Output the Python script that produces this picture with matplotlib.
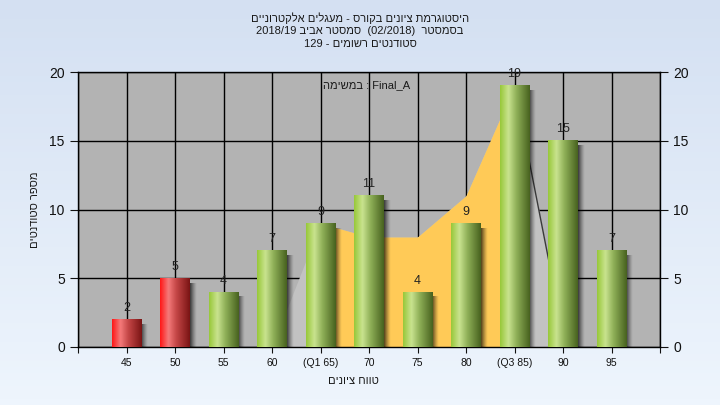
import re
import numpy as np
import matplotlib
matplotlib.use('Agg')
import matplotlib.pyplot as plt
from matplotlib.colors import to_rgb

plt.rcParams['font.family'] = ['Liberation Sans', 'DejaVu Sans']

# נתונים
categories = ['45', '50', '55', '60', '(Q1 65)', '70', '75', '80', '(Q3 85)', '90', '95']
counts = [2, 5, 4, 7, 9, 11, 4, 9, 19, 15, 7]
bar_kind = ['fail', 'fail', 'pass', 'pass', 'pass', 'pass', 'pass', 'pass', 'pass', 'pass', 'pass']
# אזור בין רבעונים (צהוב) ואזור אפור ברקע
iqr_idx = [4, 5, 6, 7, 8]
iqr_vals = [9, 8, 8, 11, 19]
gray_idx = [3, 4, 5, 6, 7, 8, 9]
gray_vals = [0, 9, 8, 8, 11, 19, 1]

title_lines = ['היסטוגרמת ציונים בקורס - מעגלים אלקטרוניים',
               'בסמסטר  (02/2018)  סמסטר אביב 2018/19',
               'סטודנטים רשומים - 129']
xlabel = 'טווח ציונים'
ylabel = 'מספר סטודנטים'
legend_heb = 'במשימה'
legend_name = 'Final_A'


def rtl(s):
    # היפוך סדר תצוגה לעברית, השארת מספרים ולטינית בסדר רגיל
    return re.sub(r'[0-9A-Za-z/()._]+', lambda m: m.group(0)[::-1], s[::-1])


def grad(stops, n=64):
    pos = np.linspace(0, 1, n)
    ps = [p for p, c in stops]
    cols = np.array([to_rgb(c) for p, c in stops])
    return np.stack([np.interp(pos, ps, cols[:, k]) for k in range(3)], axis=-1)


green = grad([(0, '#98c83a'), (0.28, '#c9e38f'), (0.55, '#8fb058'), (1, '#48621f')])
red = grad([(0, '#ff1818'), (0.28, '#f47a7a'), (0.55, '#c44646'), (1, '#7a1414')])

# צל: שחור עם שקיפות יורדת
shadow = np.zeros((1, 32, 4))
shadow[..., 3] = np.linspace(0.75, 0.0, 32) ** 1.3

fig = plt.figure(figsize=(7.2, 4.05), dpi=100)

# רקע מדורג
bg = fig.add_axes([0, 0, 1, 1], zorder=-10)
bg.imshow(grad([(0, '#d4e0f2'), (1, '#eef5fd')])[:, None, :], aspect='auto', extent=(0, 1, 0, 1), origin='upper')
bg.axis('off')

ax = fig.add_axes([78 / 720, 1 - 347 / 405, 582 / 720, 275 / 405])
ax.set_facecolor('#b3b3b3')

w = 0.6

# אזורים
ax.fill_between(gray_idx, gray_vals, color='#c2c2c2', zorder=2, lw=0)
ax.plot(gray_idx[-2:], gray_vals[-2:], color='#3a3a3a', lw=1, zorder=2.1)
ax.fill_between(iqr_idx, iqr_vals, color='#ffca57', zorder=2.5, lw=0)

# עמודות עם צל ושיפוע
for i, v in enumerate(counts):
    ax.imshow(shadow, extent=(i + w / 2, i + w / 2 + 0.14, 0, v - 0.35), aspect='auto', zorder=3,
              interpolation='bilinear')
    img = red if bar_kind[i] == 'fail' else green
    ax.imshow(img[None, :, :], extent=(i - w / 2, i + w / 2, 0, v), aspect='auto', zorder=4, interpolation='bilinear')
    ax.text(i, v + 0.4, str(v), ha='center', va='bottom', fontsize=9, color='#222222', zorder=5)

ax.set_xlim(-1, 11)
ax.set_ylim(0, 20)
ax.set_aspect('auto')

ax.set_xticks(np.arange(-1, 12))
ax.set_xticklabels([''] + categories + [''], fontsize=7.5)
ax.set_yticks([0, 5, 10, 15, 20])
ax.tick_params(axis='y', labelsize=10, length=6, right=True, labelright=True, colors='#111111')
ax.tick_params(axis='x', length=4, colors='#111111', pad=4)
ax.grid(True, color='black', lw=1)
ax.set_axisbelow(True)
for s in ax.spines.values():
    s.set_color('black')
    s.set_linewidth(1)

# טקסטים
for k, line in enumerate(title_lines):
    fig.text(0.5, 1 - (18 + 13 * k) / 405, rtl(line), ha='center', va='center', fontsize=8, color='#1a1a1a')
fig.text(353 / 720, 1 - 381 / 405, rtl(xlabel), ha='center', va='center', fontsize=8, color='#1a1a1a')
fig.text(35 / 720, 1 - 210 / 405, rtl(ylabel), ha='center', va='center', rotation=90, fontsize=8, color='#1a1a1a')
fig.text(367 / 720, 1 - 85 / 405, rtl(legend_heb) + ' : ' + legend_name, ha='center', va='center', fontsize=8, color='#1a1a1a')

fig.savefig('out.png', dpi=100)
